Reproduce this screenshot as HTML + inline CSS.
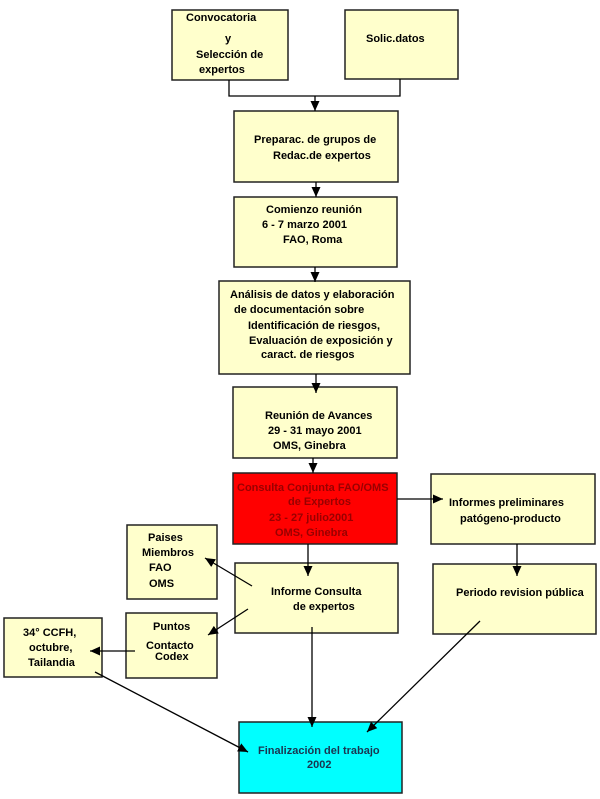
<!DOCTYPE html>
<html><head><meta charset="utf-8"><style>
html,body{margin:0;padding:0;background:#fff;}
svg{display:block;}
text{font-family:"Liberation Sans",Arial,sans-serif;font-weight:bold;font-size:11px;fill:#000;}
</style></head><body>
<svg width="600" height="799" viewBox="0 0 600 799" xmlns="http://www.w3.org/2000/svg">
<defs>
<marker id="a" markerUnits="userSpaceOnUse" markerWidth="11" markerHeight="9" refX="10" refY="4.5" orient="auto">
<path d="M0,0 L10,4.5 L0,9 z" fill="#000"/>
</marker>
</defs>
<g stroke="#222" stroke-width="1.5">
<rect x="172" y="10" width="116" height="70" fill="#FFFFCC"/>
<rect x="345" y="10" width="113" height="69" fill="#FFFFCC"/>
<rect x="234" y="111" width="164" height="71" fill="#FFFFCC"/>
<rect x="234" y="197" width="163" height="70" fill="#FFFFCC"/>
<rect x="219" y="281" width="191" height="93" fill="#FFFFCC"/>
<rect x="233" y="387" width="164" height="71" fill="#FFFFCC"/>
<rect x="233" y="473" width="164" height="71" fill="#FF0000"/>
<rect x="431" y="474" width="164" height="70" fill="#FFFFCC"/>
<rect x="127" y="525" width="90" height="74" fill="#FFFFCC"/>
<rect x="235" y="563" width="163" height="70" fill="#FFFFCC"/>
<rect x="433" y="564" width="163" height="70" fill="#FFFFCC"/>
<rect x="126" y="613" width="91" height="65" fill="#FFFFCC"/>
<rect x="4" y="618" width="98" height="59" fill="#FFFFCC"/>
<rect x="239" y="722" width="163" height="71" fill="#00FFFF"/>
</g>
<g stroke="#000" stroke-width="1.3" fill="none">
<polyline points="229,80 229,96 400,96 400,79"/>
<line x1="315" y1="96" x2="315" y2="111" marker-end="url(#a)"/>
<line x1="316" y1="182" x2="316" y2="197" marker-end="url(#a)"/>
<line x1="315" y1="267" x2="315" y2="282" marker-end="url(#a)"/>
<line x1="316" y1="374" x2="316" y2="393" marker-end="url(#a)"/>
<line x1="313" y1="458" x2="313" y2="473" marker-end="url(#a)"/>
<line x1="308" y1="544" x2="308" y2="576" marker-end="url(#a)"/>
<line x1="397" y1="499" x2="443" y2="499" marker-end="url(#a)"/>
<line x1="517" y1="544" x2="517" y2="576" marker-end="url(#a)"/>
<line x1="252" y1="586" x2="205" y2="558" marker-end="url(#a)"/>
<line x1="248" y1="609" x2="208" y2="635" marker-end="url(#a)"/>
<line x1="135" y1="651" x2="90" y2="651" marker-end="url(#a)"/>
<line x1="95" y1="672" x2="248" y2="752" marker-end="url(#a)"/>
<line x1="312" y1="627" x2="312" y2="727" marker-end="url(#a)"/>
<line x1="480" y1="621" x2="367" y2="732" marker-end="url(#a)"/>
</g>
<text x="186" y="21">Convocatoria</text>
<text x="225" y="42">y</text>
<text x="196" y="58">Selección de</text>
<text x="199" y="73">expertos</text>
<text x="366" y="42">Solic.datos</text>
<text x="254" y="143">Preparac. de grupos de</text>
<text x="273" y="159">Redac.de expertos</text>
<text x="266" y="213">Comienzo reunión</text>
<text x="262" y="228">6 - 7 marzo 2001</text>
<text x="283" y="243">FAO, Roma</text>
<text x="230" y="298">Análisis de datos y elaboración</text>
<text x="234" y="313">de documentación sobre</text>
<text x="248" y="329">Identificación de riesgos,</text>
<text x="249" y="344">Evaluación de exposición y</text>
<text x="261" y="358">caract. de riesgos</text>
<text x="265" y="419">Reunión de Avances</text>
<text x="268" y="434">29 - 31 mayo 2001</text>
<text x="273" y="449">OMS, Ginebra</text>
<g style="fill:#990000">
<text x="237" y="491" style="fill:#990000">Consulta Conjunta FAO/OMS</text>
<text x="288" y="505" style="fill:#990000">de Expertos</text>
<text x="269" y="521" style="fill:#990000">23 - 27  julio2001</text>
<text x="275" y="536" style="fill:#990000">OMS, Ginebra</text>
</g>
<text x="449" y="506">Informes preliminares</text>
<text x="460" y="522">patógeno-producto</text>
<text x="148" y="541">Paises</text>
<text x="142" y="556">Miembros</text>
<text x="149" y="571">FAO</text>
<text x="149" y="587">OMS</text>
<text x="271" y="595">Informe Consulta</text>
<text x="293" y="610">de expertos</text>
<text x="456" y="596">Periodo revision pública</text>
<text x="153" y="630">Puntos</text>
<text x="146" y="649">Contacto</text>
<text x="155" y="660">Codex</text>
<text x="23" y="636">34° CCFH,</text>
<text x="29" y="651">octubre,</text>
<text x="28" y="666">Tailandia</text>
<text x="258" y="754" style="fill:#1a3550">Finalización del trabajo</text>
<text x="307" y="768" style="fill:#1a3550">2002</text>
</svg>
</body></html>
